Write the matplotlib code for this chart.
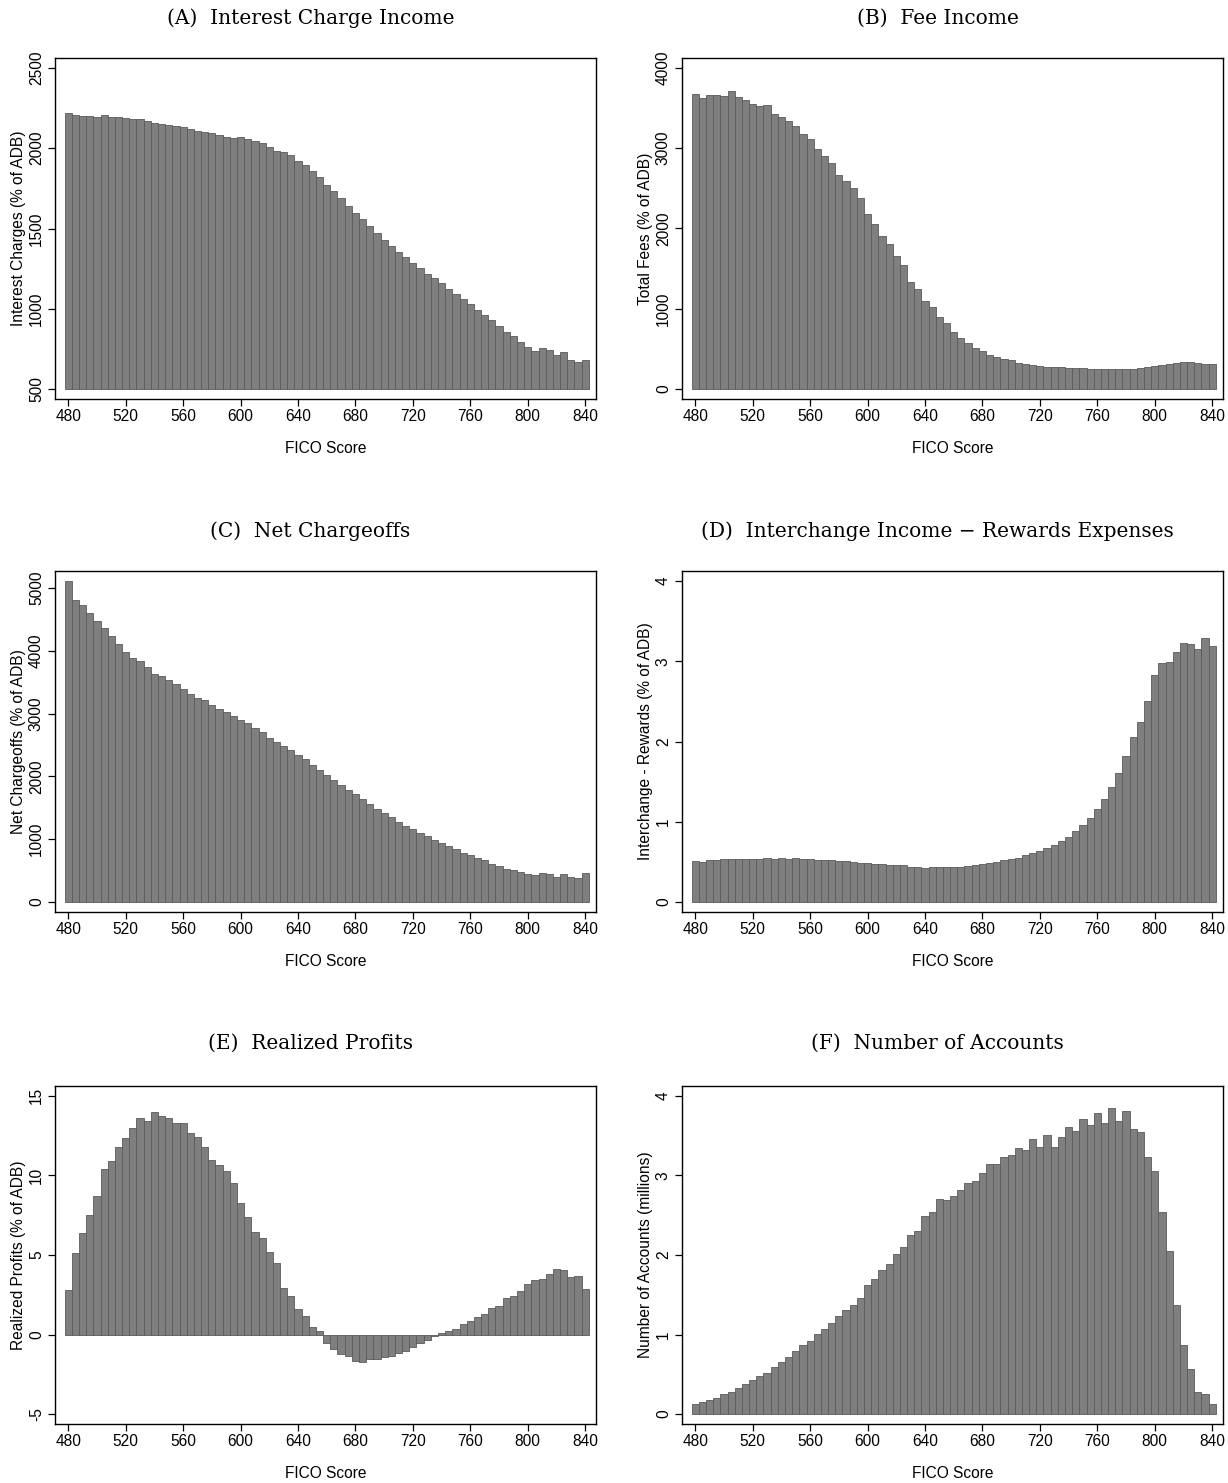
import matplotlib
matplotlib.use("Agg")
import matplotlib.pyplot as plt

# FICO score bins (5-point buckets)
fico = list(range(480, 845, 5))

interest = [2222, 2204, 2200, 2200, 2193, 2206, 2196, 2192, 2187, 2179,
            2181, 2168, 2160, 2148, 2144, 2140, 2133, 2119, 2108, 2102,
            2092, 2081, 2073, 2063, 2071, 2059, 2046, 2030, 2005, 1984,
            1974, 1955, 1920, 1895, 1856, 1819, 1773, 1734, 1690, 1643,
            1599, 1558, 1514, 1473, 1431, 1394, 1355, 1322, 1284, 1253,
            1218, 1189, 1160, 1125, 1092, 1061, 1032, 993, 964, 930,
            893, 856, 833, 796, 761, 738, 755, 742, 709, 730,
            678, 668, 684]

fees = [3676, 3631, 3668, 3664, 3656, 3714, 3639, 3606, 3556, 3523,
        3544, 3432, 3391, 3345, 3279, 3180, 3109, 2989, 2906, 2819,
        2670, 2592, 2509, 2385, 2178, 2053, 1909, 1805, 1656, 1544,
        1337, 1250, 1101, 1023, 903, 824, 716, 642, 575, 513,
        468, 426, 402, 373, 356, 327, 306, 294, 286, 277,
        273, 269, 265, 261, 257, 253, 253, 253, 248, 253,
        248, 253, 261, 269, 282, 294, 315, 323, 331, 340,
        319, 315, 311]

chargeoffs = [5109, 4812, 4722, 4600, 4473, 4367, 4235, 4102, 3986, 3885,
              3843, 3737, 3631, 3599, 3535, 3466, 3387, 3307, 3244, 3212,
              3132, 3074, 3021, 2963, 2889, 2841, 2772, 2703, 2613, 2549,
              2486, 2417, 2332, 2274, 2184, 2099, 2019, 1945, 1866, 1776,
              1717, 1638, 1558, 1479, 1410, 1352, 1277, 1208, 1155, 1092,
              1044, 981, 933, 885, 843, 784, 747, 694, 663, 610,
              578, 519, 514, 482, 451, 424, 461, 445, 398, 440,
              392, 382, 466]

interchange = [0.515, 0.502, 0.523, 0.523, 0.531, 0.539, 0.531, 0.539, 0.539, 0.539,
               0.544, 0.539, 0.544, 0.539, 0.544, 0.539, 0.535, 0.527, 0.527, 0.519,
               0.510, 0.506, 0.498, 0.490, 0.481, 0.477, 0.469, 0.465, 0.461, 0.456,
               0.440, 0.436, 0.427, 0.440, 0.436, 0.436, 0.440, 0.440, 0.452, 0.456,
               0.469, 0.481, 0.502, 0.519, 0.539, 0.552, 0.585, 0.614, 0.639, 0.668,
               0.710, 0.759, 0.809, 0.880, 0.959, 1.046, 1.154, 1.282, 1.427, 1.602,
               1.817, 2.050, 2.241, 2.510, 2.826, 2.983, 2.992, 3.116, 3.232, 3.216,
               3.154, 3.290, 3.187]

profits = [2.80, 5.12, 6.41, 7.53, 8.71, 10.39, 10.89, 11.80, 12.37, 12.95,
           13.61, 13.40, 13.98, 13.73, 13.63, 13.28, 13.30, 12.68, 12.39, 11.76,
           10.95, 10.68, 10.27, 9.52, 8.28, 7.39, 6.47, 6.04, 5.17, 4.48,
           2.95, 2.43, 1.62, 1.18, 0.48, 0.23, -0.52, -0.91, -1.22, -1.35,
           -1.68, -1.70, -1.56, -1.51, -1.41, -1.33, -1.18, -1.06, -0.81, -0.52,
           -0.37, -0.12, 0.12, 0.25, 0.37, 0.68, 0.87, 1.08, 1.31, 1.64,
           1.80, 2.32, 2.43, 2.74, 3.15, 3.44, 3.49, 3.80, 4.09, 4.05,
           3.61, 3.65, 2.86]

accounts = [0.129, 0.154, 0.178, 0.203, 0.253, 0.278, 0.324, 0.373, 0.432, 0.481,
            0.523, 0.598, 0.660, 0.722, 0.793, 0.871, 0.921, 1.008, 1.075, 1.145,
            1.232, 1.311, 1.369, 1.465, 1.622, 1.701, 1.817, 1.892, 2.017, 2.100,
            2.253, 2.299, 2.494, 2.535, 2.705, 2.693, 2.739, 2.822, 2.905, 2.929,
            3.029, 3.141, 3.145, 3.228, 3.257, 3.344, 3.315, 3.456, 3.361, 3.510,
            3.361, 3.485, 3.610, 3.556, 3.714, 3.631, 3.788, 3.664, 3.842, 3.680,
            3.805, 3.581, 3.544, 3.237, 3.054, 2.539, 2.054, 1.373, 0.863, 0.568,
            0.278, 0.253, 0.129]

titles = ["(A)  Interest Charge Income", "(B)  Fee Income",
          "(C)  Net Chargeoffs", "(D)  Interchange Income \u2212 Rewards Expenses",
          "(E)  Realized Profits", "(F)  Number of Accounts"]
ylabels = ["Interest Charges (% of ADB)", "Total Fees (% of ADB)",
           "Net Chargeoffs (% of ADB)", "Interchange - Rewards (% of ADB)",
           "Realized Profits (% of ADB)", "Number of Accounts (millions)"]
series = [interest, fees, chargeoffs, interchange, profits, accounts]
yticks = [[500, 1000, 1500, 2000, 2500], [0, 1000, 2000, 3000, 4000],
          [0, 1000, 2000, 3000, 4000, 5000], [0, 1, 2, 3, 4],
          [-5, 0, 5, 10, 15], [0, 1, 2, 3, 4]]
bases = [500, 0, 0, 0, 0, 0]
xticks = [480, 520, 560, 600, 640, 680, 720, 760, 800, 840]

plt.rcParams["font.family"] = ["Liberation Sans", "DejaVu Sans"]
plt.rcParams["axes.unicode_minus"] = False

W, H = 1228, 1483
fig = plt.figure(figsize=(W / 100, H / 100), dpi=100)

# panel frames in pixels: (left, right) and (top, bottom)
col_x = [(55, 596), (682, 1223)]
row_y = [(58, 399), (571, 912), (1086, 1424)]
title_y = [18, 531, 1043]
fs = 11.2

for i, vals in enumerate(series):
    r, c = divmod(i, 2)
    x0, x1 = col_x[c]
    y0, y1 = row_y[r]
    ax = fig.add_axes([x0 / W, 1 - y1 / H, (x1 - x0) / W, (y1 - y0) / H])

    base = bases[i]
    heights = [v - base for v in vals]
    ax.bar(fico, heights, width=5, bottom=base, color="#7f7f7f",
           edgecolor="#5a5a5a", linewidth=0.6, align="center")

    lo = min(min(vals), yticks[i][0], base)
    hi = max(max(vals), yticks[i][-1])
    pad = 0.031 * (hi - lo)
    ax.set_ylim(lo - pad, hi + pad)
    ax.set_xlim(470.8, 847.5)

    ax.set_xticks(xticks)
    ax.set_yticks(yticks[i])
    ax.tick_params(axis="both", direction="out", length=5, width=0.9,
                   labelsize=fs, colors="black")
    ax.tick_params(axis="x", pad=2.5)
    ax.tick_params(axis="y", labelrotation=90, pad=3)
    for lbl in ax.get_yticklabels():
        lbl.set_va("center")
    for s in ax.spines.values():
        s.set_linewidth(1.0)
        s.set_color("black")

    ax.set_xlabel("FICO Score", fontsize=fs, labelpad=12)
    ax.set_ylabel(ylabels[i], fontsize=fs)
    ax.yaxis.set_label_coords(-0.053, 0.5)

    fig.text((x0 + x1) / 2 / W - 15 / W, 1 - title_y[r] / H, titles[i],
             ha="center", va="center", fontsize=14.5,
             family=["DejaVu Serif"])

fig.savefig("out.png", dpi=100)
